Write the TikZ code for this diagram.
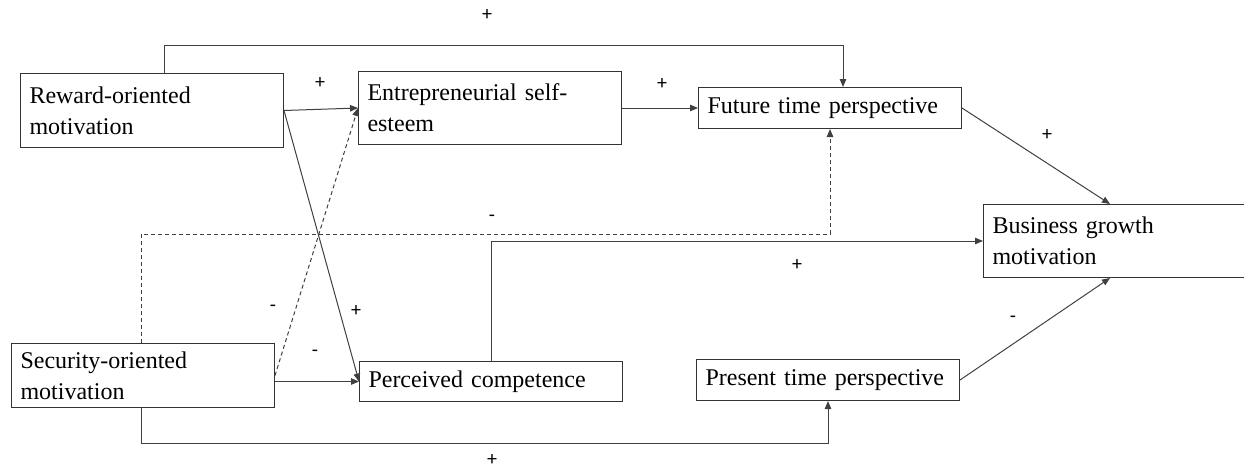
\documentclass[tikz,border=0pt]{standalone}
\usepackage{fontspec}
\setmainfont{Liberation Serif}
\newfontfamily\boxfont{Liberation Serif}
\newfontfamily\signfont{Carlito}
\usetikzlibrary{arrows.meta}

\begin{document}
\begin{tikzpicture}[
    x=1pt, y=-1pt,
    box/.style={draw=black!80, line width=1pt, anchor=north west, align=left,
        text width=245pt, inner xsep=9pt, inner ysep=0pt,
        font=\boxfont\fontsize{24}{31}\selectfont},
    sign/.style={font=\signfont\fontsize{20}{22}\selectfont, inner sep=0pt},
    arrow/.style={-{Triangle[length=8pt,width=6.5pt]}, line width=1pt, draw=black!75},
    neg/.style={arrow, dash pattern=on 4pt off 3pt}
]
\useasboundingbox (0,0) rectangle (1244,471);
\node[box, minimum height=74pt] (rew) at (20,73) {Reward-oriented\\motivation};
\node[box, minimum height=73pt] (ent) at (358,71) {Entrepreneurial self-\\esteem};
\node[box, minimum height=41pt] (fut) at (698,87) {Future time perspective};
\node[box, minimum height=73pt] (bus) at (983,204) {Business growth\\motivation};
\node[box, minimum height=64pt] (sec) at (11,343) {Security-oriented\\motivation};
\node[box, minimum height=40pt] (per) at (359,361) {Perceived competence};
\node[box, minimum height=41pt] (pre) at (696,359) {Present time perspective};
% reward-oriented paths
\draw[arrow] ([xshift=144pt]rew.north west) -- ++(0,-28) -| ([xshift=145pt]fut.north west);
\draw[arrow] (rew.east) -- (ent.west);
\draw[arrow] (rew.east) -- (per.west);
% security-oriented paths
\draw[neg] (sec.east) -- (ent.west);
\draw[arrow] (sec.east |- per.west) -- (per.west);
\draw[neg] ([xshift=130pt]sec.north west) -- ++(0,-109) -| (fut.south);
\draw[arrow] ([xshift=130pt]sec.south west) -- ++(0,35) -| (pre.south);
% mediators to outcome
\draw[arrow] (ent.east) -- (fut.west);
\draw[arrow] (per.north) |- (bus.west);
\draw[arrow] (fut.east) -- ([xshift=127pt]bus.north west);
\draw[arrow] (pre.east) -- ([xshift=127pt]bus.south west);
% signs
\node[sign] (s1) at (487,15) {+};
\node[sign] (s2) at (320,83) {+};
\node[sign] (s3) at (662,84) {+};
\node[sign] (s4) at (1047,135) {+};
\node[sign] (s5) at (492,218) {-};
\node[sign] (s6) at (797,265) {+};
\node[sign] (s7) at (356,311) {+};
\node[sign] (s8) at (273,308) {-};
\node[sign] (s9) at (315,353) {-};
\node[sign] (s10) at (1013,319) {-};
\node[sign] (s11) at (492,460) {+};
\end{tikzpicture}
\end{document}
